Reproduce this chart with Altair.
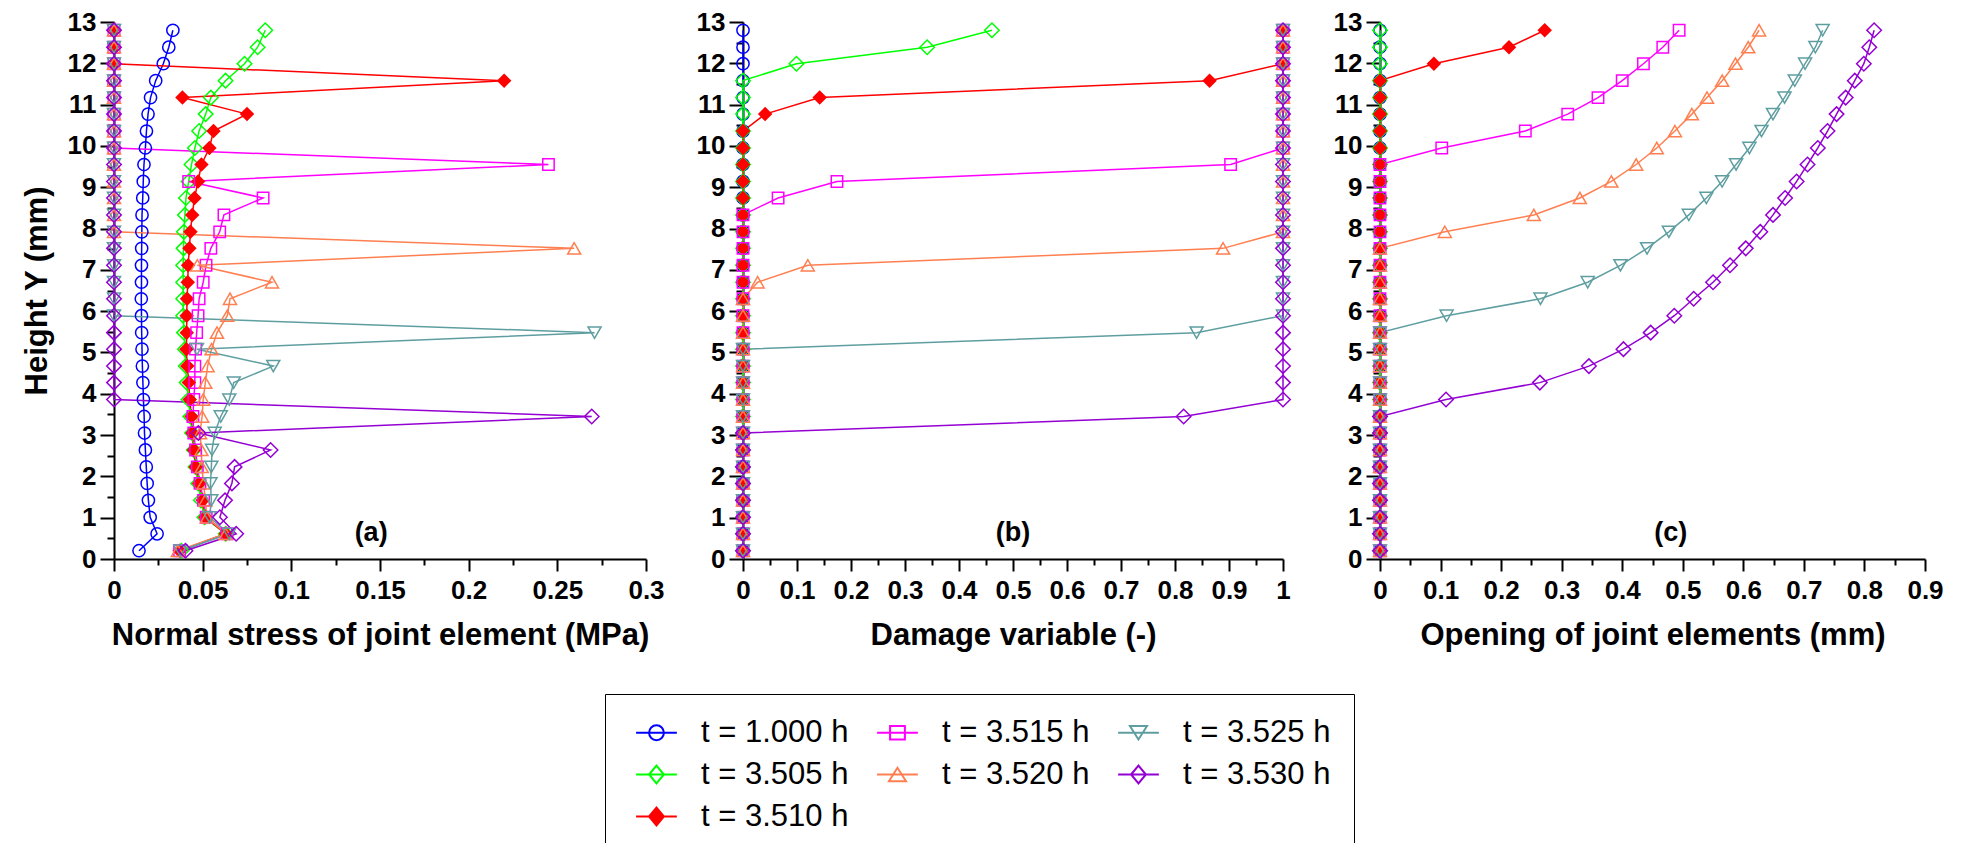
import altair as alt
import pandas as pd

# mid-heights of the 32 joint elements (mm)
heights = [0.20, 0.61, 1.01, 1.42, 1.83, 2.23, 2.64, 3.05, 3.45, 3.86, 4.27, 4.67,
           5.08, 5.48, 5.89, 6.30, 6.70, 7.11, 7.52, 7.92, 8.33, 8.74, 9.14, 9.55,
           9.95, 10.36, 10.77, 11.17, 11.58, 11.99, 12.39, 12.80]

series = ["t = 1.000 h", "t = 3.505 h", "t = 3.510 h", "t = 3.515 h",
          "t = 3.520 h", "t = 3.525 h", "t = 3.530 h"]
colors = ["#0000FF", "#00FF00", "#FF0000", "#FF00FF", "#FF7F50", "#5F9EA0", "#9400D3"]
shapes = ["circle", "diamond", "diamond", "square", "triangle-up", "triangle-down", "diamond"]
filled = [False, False, True, False, False, False, False]

# (a) normal stress of joint element (MPa), bottom to top
stress_1000 = [0.0141, 0.0243, 0.0204, 0.0194, 0.0187, 0.0182, 0.0177, 0.0172, 0.0170, 0.0166,
               0.0163, 0.0160, 0.0158, 0.0156, 0.0155, 0.0154, 0.0155, 0.0155, 0.0156, 0.0157,
               0.0158, 0.0162, 0.0165, 0.0169, 0.0177, 0.0183, 0.0192, 0.0206, 0.0235, 0.0278,
               0.0309, 0.0332]
stress_3505 = [0.038, 0.063, 0.051, 0.049, 0.0475, 0.046, 0.045, 0.044, 0.043, 0.042,
               0.041, 0.0405, 0.040, 0.0395, 0.039, 0.039, 0.039, 0.039, 0.0392, 0.0394,
               0.040, 0.0406, 0.0421, 0.0437, 0.0456, 0.048, 0.0517, 0.0546, 0.0629, 0.0736,
               0.081, 0.0853]
stress_3510 = [0.037, 0.063, 0.0515, 0.050, 0.048, 0.046, 0.045, 0.0442, 0.0437, 0.0427,
               0.0422, 0.0413, 0.0408, 0.041, 0.041, 0.0412, 0.0416, 0.0418, 0.0425, 0.0431,
               0.0441, 0.0454, 0.0474, 0.0493, 0.0538, 0.0561, 0.075, 0.0386, 0.220, 0.0,
               0.0, 0.0]
stress_3515 = [0.037, 0.0638, 0.052, 0.0505, 0.0485, 0.047, 0.046, 0.045, 0.0445, 0.045,
               0.0456, 0.0456, 0.046, 0.0466, 0.0474, 0.048, 0.0503, 0.0519, 0.0546, 0.0596,
               0.062, 0.0841, 0.0421, 0.245, 0.0, 0.0, 0.0, 0.0, 0.0, 0.0,
               0.0, 0.0]
stress_3520 = [0.036, 0.063, 0.0524, 0.0515, 0.0505, 0.0495, 0.0493, 0.0485, 0.0497, 0.0503,
               0.0515, 0.0528, 0.055, 0.0581, 0.0639, 0.0654, 0.0891, 0.047, 0.2595, 0.0,
               0.0, 0.0, 0.0, 0.0, 0.0, 0.0, 0.0, 0.0, 0.0, 0.0,
               0.0, 0.0]
stress_3525 = [0.0374, 0.065, 0.0539, 0.0549, 0.0544, 0.0549, 0.0553, 0.0568, 0.0602, 0.065,
               0.0675, 0.0898, 0.0468, 0.271, 0.0, 0.0, 0.0, 0.0, 0.0, 0.0,
               0.0, 0.0, 0.0, 0.0, 0.0, 0.0, 0.0, 0.0, 0.0, 0.0,
               0.0, 0.0]
stress_3530 = [0.0403, 0.0689, 0.0597, 0.0626, 0.0665, 0.068, 0.0883, 0.0476, 0.2694, 0.0,
               0.0, 0.0, 0.0, 0.0, 0.0, 0.0, 0.0, 0.0, 0.0, 0.0,
               0.0, 0.0, 0.0, 0.0, 0.0, 0.0, 0.0, 0.0, 0.0, 0.0,
               0.0, 0.0]

# (b) damage variable (-)
damage_1000 = [0.0, 0.0, 0.0, 0.0, 0.0, 0.0, 0.0, 0.0, 0.0, 0.0, 0.0, 0.0, 0.0, 0.0, 0.0, 0.0,
               0.0, 0.0, 0.0, 0.0, 0.0, 0.0, 0.0, 0.0, 0.0, 0.0, 0.0, 0.0, 0.0, 0.0, 0.0, 0.0]
damage_3505 = [0.0, 0.0, 0.0, 0.0, 0.0, 0.0, 0.0, 0.0, 0.0, 0.0, 0.0, 0.0, 0.0, 0.0, 0.0, 0.0,
               0.0, 0.0, 0.0, 0.0, 0.0, 0.0, 0.0, 0.0, 0.0, 0.0, 0.0, 0.0, 0.0, 0.099, 0.341, 0.461]
damage_3510 = [0.0, 0.0, 0.0, 0.0, 0.0, 0.0, 0.0, 0.0, 0.0, 0.0, 0.0, 0.0, 0.0, 0.0, 0.0, 0.0,
               0.0, 0.0, 0.0, 0.0, 0.0, 0.0, 0.0, 0.0, 0.0, 0.0, 0.041, 0.142, 0.864, 1.0, 1.0, 1.0]
damage_3515 = [0.0, 0.0, 0.0, 0.0, 0.0, 0.0, 0.0, 0.0, 0.0, 0.0, 0.0, 0.0, 0.0, 0.0, 0.0, 0.0,
               0.0, 0.0, 0.0, 0.0, 0.0, 0.065, 0.174, 0.903, 1.0, 1.0, 1.0, 1.0, 1.0, 1.0, 1.0, 1.0]
damage_3520 = [0.0, 0.0, 0.0, 0.0, 0.0, 0.0, 0.0, 0.0, 0.0, 0.0, 0.0, 0.0, 0.0, 0.0, 0.0, 0.0,
               0.027, 0.120, 0.889, 1.0, 1.0, 1.0, 1.0, 1.0, 1.0, 1.0, 1.0, 1.0, 1.0, 1.0, 1.0, 1.0]
damage_3525 = [0.0, 0.0, 0.0, 0.0, 0.0, 0.0, 0.0, 0.0, 0.0, 0.0, 0.0, 0.0, 0.0, 0.840, 1.0, 1.0,
               1.0, 1.0, 1.0, 1.0, 1.0, 1.0, 1.0, 1.0, 1.0, 1.0, 1.0, 1.0, 1.0, 1.0, 1.0, 1.0]
damage_3530 = [0.0, 0.0, 0.0, 0.0, 0.0, 0.0, 0.0, 0.0, 0.816, 1.0, 1.0, 1.0, 1.0, 1.0, 1.0, 1.0,
               1.0, 1.0, 1.0, 1.0, 1.0, 1.0, 1.0, 1.0, 1.0, 1.0, 1.0, 1.0, 1.0, 1.0, 1.0, 1.0]

# (c) opening of joint elements (mm)
opening_1000 = [0.0, 0.0, 0.0, 0.0, 0.0, 0.0, 0.0, 0.0, 0.0, 0.0, 0.0, 0.0, 0.0, 0.0, 0.0, 0.0,
                0.0, 0.0, 0.0, 0.0, 0.0, 0.0, 0.0, 0.0, 0.0, 0.0, 0.0, 0.0, 0.0, 0.0, 0.0, 0.0]
opening_3505 = [0.0, 0.0, 0.0, 0.0, 0.0, 0.0, 0.0, 0.0, 0.0, 0.0, 0.0, 0.0, 0.0, 0.0, 0.0, 0.0,
                0.0, 0.0, 0.0, 0.0, 0.0, 0.0, 0.0, 0.0, 0.0, 0.0, 0.0, 0.0, 0.0, 0.0, 0.0, 0.0]
opening_3510 = [0.0, 0.0, 0.0, 0.0, 0.0, 0.0, 0.0, 0.0, 0.0, 0.0, 0.0, 0.0, 0.0, 0.0, 0.0, 0.0,
                0.0, 0.0, 0.0, 0.0, 0.0, 0.0, 0.0, 0.0, 0.0, 0.0, 0.0, 0.0, 0.0, 0.089, 0.213, 0.272]
opening_3515 = [0.0, 0.0, 0.0, 0.0, 0.0, 0.0, 0.0, 0.0, 0.0, 0.0, 0.0, 0.0, 0.0, 0.0, 0.0, 0.0,
                0.0, 0.0, 0.0, 0.0, 0.0, 0.0, 0.0, 0.0, 0.102, 0.240, 0.310, 0.360, 0.400, 0.435,
                0.467, 0.494]
opening_3520 = [0.0, 0.0, 0.0, 0.0, 0.0, 0.0, 0.0, 0.0, 0.0, 0.0, 0.0, 0.0, 0.0, 0.0, 0.0, 0.0,
                0.0, 0.0, 0.0, 0.107, 0.254, 0.330, 0.382, 0.423, 0.457, 0.487, 0.515, 0.540,
                0.565, 0.587, 0.608, 0.626]
opening_3525 = [0.0, 0.0, 0.0, 0.0, 0.0, 0.0, 0.0, 0.0, 0.0, 0.0, 0.0, 0.0, 0.0, 0.0, 0.110,
                0.265, 0.343, 0.397, 0.441, 0.477, 0.510, 0.539, 0.565, 0.588, 0.610, 0.630,
                0.649, 0.668, 0.685, 0.702, 0.719, 0.731]
opening_3530 = [0.0, 0.0, 0.0, 0.0, 0.0, 0.0, 0.0, 0.0, 0.0, 0.109, 0.264, 0.345, 0.402,
                0.447, 0.486, 0.518, 0.550, 0.578, 0.604, 0.628, 0.649, 0.669, 0.688, 0.706,
                0.723, 0.739, 0.754, 0.769, 0.784, 0.799, 0.808, 0.816]

stress = [stress_1000, stress_3505, stress_3510, stress_3515, stress_3520, stress_3525, stress_3530]
damage = [damage_1000, damage_3505, damage_3510, damage_3515, damage_3520, damage_3525, damage_3530]
opening = [opening_1000, opening_3505, opening_3510, opening_3515, opening_3520, opening_3525,
           opening_3530]

panel_labels = ["(a)", "(b)", "(c)"]
label_x = [0.145, 0.50, 0.48]
label_y = 0.63

# Vega fills a multi-column legend by (index % rows, index); this order puts
# 1.000/3.505/3.510, 3.515/3.520 and 3.525/3.530 down the three columns
legend_order = [series[i] for i in (0, 1, 6, 3, 4, 2, 5)]
legend_key = {name: f"{k}|{name}" for k, name in enumerate(legend_order)}

rows = []
for name, s_vals, d_vals, o_vals in zip(series, stress, damage, opening):
    for h, s, d, o in zip(heights, s_vals, d_vals, o_vals):
        rows.append({"series": name, "key": legend_key[name], "height": h,
                     "stress": s, "damage": d, "opening": o})
df = pd.DataFrame(rows)

color_of = dict(zip(series, colors))
shape_of = dict(zip(series, shapes))
filled_of = dict(zip(series, filled))
marker_size = {"circle": 150, "square": 130, "diamond": 210, "triangle-up": 170,
               "triangle-down": 170}

# legend symbols: a short line with the marker on it (unit = half the symbol width)
line_path = "M-1,0H4.5"
marker_paths = {
    "circle": "M2.75,0A1,1,0,1,1,0.75,0A1,1,0,1,1,2.75,0",
    "square": "M0.75,-0.9H2.75V0.9H0.75Z",
    "triangle-up": "M1.75,-0.9L0.6,0.9H2.9Z",
    "triangle-down": "M1.75,0.9L0.6,-0.9H2.9Z",
}


def diamond_path(k):
    return (f"M{1.75 - k:.3f},0L1.75,{-1.2 * k:.3f}L{1.75 + k:.3f},0L1.75,{1.2 * k:.3f}Z")


def legend_symbol(name):
    shp = shape_of[name]
    if shp == "diamond":
        if filled_of[name]:
            # nested outlines so the symbol reads as a solid diamond
            body = "".join(diamond_path(k / 8) for k in range(8, 0, -1))
        else:
            body = diamond_path(1)
    else:
        body = marker_paths[shp]
    return line_path + body


line_scale = alt.Scale(domain=series, range=colors)
key_domain = [legend_key[s] for s in legend_order]
color_scale = alt.Scale(domain=key_domain, range=[color_of[s] for s in legend_order])
legend_shape_scale = alt.Scale(domain=key_domain, range=[legend_symbol(s) for s in legend_order])

legend = alt.Legend(
    title=None, orient="none", legendX=491, legendY=672, columns=3, values=key_domain,
    labelExpr="split(datum.label, '|')[1]",
    labelFont="Liberation Sans", labelFontSize=31, labelColor="black",
    symbolSize=220, symbolStrokeWidth=2, symbolOpacity=1,
    labelOffset=42, columnPadding=20, rowPadding=10, padding=23,
    strokeColor="black", fillColor="white",
)

y_ticks = [i * 0.5 for i in range(27)]


def minor_test(step):
    return f"abs(datum.value / {step} - round(datum.value / {step})) > 0.001"


def panel(i, field, title, domain, ticks, step, width, y_title):
    x_axis = alt.Axis(
        title=title, values=ticks, format="~g", labelOverlap=False, labelFlush=False,
        labelExpr=f"{minor_test(step)} ? '' : datum.label",
        tickSize={"condition": {"test": minor_test(step), "value": 6}, "value": 12},
        labelPadding=6, titlePadding=17,
    )
    y_axis_args = dict(
        values=y_ticks, format="~g", labelOverlap=False, labelFlush=False,
        labelExpr=f"{minor_test(1)} ? '' : datum.label",
        tickSize={"condition": {"test": minor_test(1), "value": 7}, "value": 14},
        labelPadding=4, titlePadding=14,
    )
    if y_title:
        y_axis = alt.Axis(title=y_title, **y_axis_args)
    else:
        y_axis = alt.Axis(title=None, **y_axis_args)
    x = alt.X(f"{field}:Q", scale=alt.Scale(domain=domain, nice=False, zero=False), axis=x_axis)
    y = alt.Y("height:Q", scale=alt.Scale(domain=[0, 13], nice=False), axis=y_axis)

    base = alt.Chart(df)
    layers = [base.mark_line(strokeWidth=1.5).encode(
        x=x, y=y,
        stroke=alt.Stroke("series:N", scale=line_scale, legend=None),
        order="height:Q",
    )]
    for name in series:
        layers.append(
            base.transform_filter(alt.datum.series == name).mark_point(
                shape=shape_of[name], size=marker_size[shape_of[name]], strokeWidth=1.5,
                opacity=1, color=color_of[name], filled=filled_of[name],
            ).encode(x=x, y=y)
        )
    label_df = pd.DataFrame({field: [label_x[i]], "height": [label_y], "label": [panel_labels[i]]})
    layers.append(alt.Chart(label_df).mark_text(
        font="Liberation Sans", fontWeight="bold", fontSize=27, color="black"
    ).encode(x=x, y=y, text="label:N"))
    if i == 0:
        # invisible marks, they only carry the legend
        layers.append(
            base.mark_point(filled=False, strokeWidth=2, opacity=0).encode(
                x=x, y=y,
                color=alt.Color("key:N", scale=color_scale, legend=legend),
                shape=alt.Shape("key:N", scale=legend_shape_scale, legend=legend),
            )
        )
    return alt.layer(*layers).properties(width=width, height=537)


a = panel(0, "stress", "Normal stress of joint element (MPa)", [0, 0.3],
          [round(i * 0.025, 3) for i in range(13)], 0.05, 532, "Height Y (mm)")
b = panel(1, "damage", "Damage variable (-)", [0, 1],
          [round(i * 0.05, 2) for i in range(21)], 0.1, 540, None)
c = panel(2, "opening", "Opening of joint elements (mm)", [0, 0.9],
          [round(i * 0.05, 2) for i in range(19)], 0.1, 545, None)

chart = alt.hconcat(a, b, c, spacing=97, bounds="flush").properties(
    padding={"left": 13, "top": 1, "right": 5, "bottom": 0}
).configure_view(
    strokeWidth=0
).configure_axis(
    grid=False, domainColor="black", domainWidth=2, tickColor="black", tickWidth=2,
    labelFont="Liberation Sans", labelFontWeight="bold", labelFontSize=26, labelColor="black",
    titleFont="Liberation Sans", titleFontWeight="bold", titleFontSize=31, titleColor="black",
)

chart.save("out.html", embed_options={"renderer": "svg", "actions": False})
